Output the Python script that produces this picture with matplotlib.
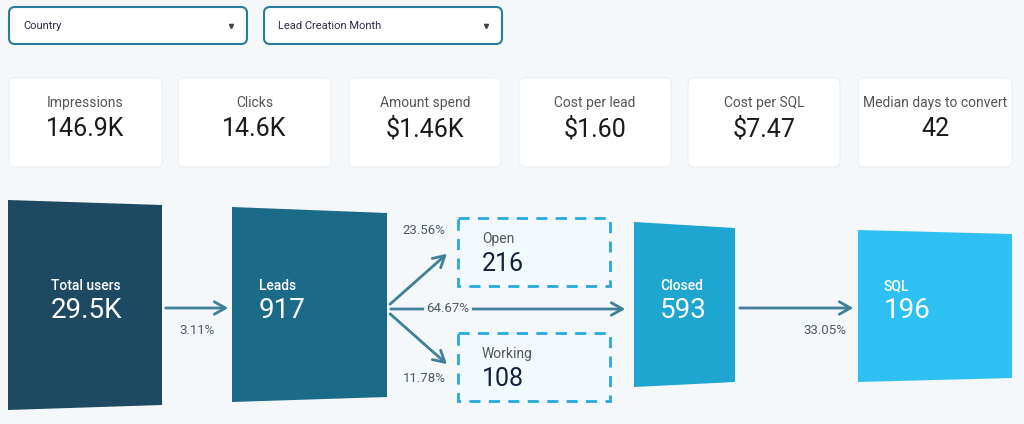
import matplotlib.pyplot as plt
from matplotlib.patches import FancyBboxPatch, Polygon, Rectangle

plt.rcParams['font.family'] = 'Roboto'

# -------------------- Data ----------------------- #
filters = ['Country', 'Lead Creation Month']
kpi_labels = ['Impressions', 'Clicks', 'Amount spend', 'Cost per lead', 'Cost per SQL', 'Median days to convert']
kpi_values = ['146.9K', '14.6K', '$1.46K', '$1.60', '$7.47', '42']
stage_labels = ['Total users', 'Leads', 'Closed', 'SQL']
stage_values = ['29.5K', '917', '593', '196']
branch_labels = ['Open', 'Working']
branch_values = ['216', '108']
rates = ['3.11%', '23.56%', '64.67%', '11.78%', '33.05%']

# -------------------- Layout ----------------------- #
fig = plt.figure(figsize=(10.24, 4.24), dpi=100, facecolor='#f5f8fa')
ax = fig.add_axes([0, 0, 1, 1])
ax.set_xlim(0, 1024)
ax.set_ylim(424, 0)
ax.axis('off')

# filter dropdowns
for (x0, x1), txt in zip([(9, 247), (264, 502)], filters):
    ax.add_patch(FancyBboxPatch((x0, 7), x1 - x0, 37, boxstyle='round,pad=0,rounding_size=6',
                                fc='white', ec='#2a7a9a', lw=1.5))
    ax.text(x0 + 14, 26, txt, fontsize=8, color='#2b2b4a', va='center')
    ax.plot([x1 - 16], [26], marker='v', ms=3, color='#444')

# KPI cards
card_x = [(9, 162), (178, 331), (349, 501), (519, 671), (688, 840), (858, 1012)]
for (x0, x1), lab, val in zip(card_x, kpi_labels, kpi_values):
    ax.add_patch(FancyBboxPatch((x0, 78), x1 - x0, 89, boxstyle='round,pad=0,rounding_size=6',
                                fc='white', ec='#eceff1', lw=0.8))
    cx = (x0 + x1) / 2
    ax.text(cx, 103, lab, fontsize=10, color='#555', ha='center', va='center')
    ax.text(cx, 129, val, fontsize=18, color='#1a1a1a', ha='center', va='center')

# funnel stages
shapes = [
    [(8, 200), (162, 205), (162, 405), (8, 410)],
    [(232, 207), (387, 213), (387, 397), (232, 402)],
    [(634, 222), (735, 228), (735, 382), (634, 387)],
    [(858, 230), (1012, 234), (1012, 378), (858, 382)],
]
colors = ['#1d4a62', '#1b6a87', '#1ea5d0', '#2ec0f2']
text_x = [86, 259, 660, 884]
for pts, c, tx, lab, val in zip(shapes, colors, text_x, stage_labels, stage_values):
    ax.add_patch(Polygon(pts, closed=True, fc=c, ec='none'))
    ha = 'center' if tx == 86 else 'left'
    ax.text(tx, 286, lab, fontsize=10, color='white', ha=ha, va='center', fontweight='medium')
    ax.text(tx, 311, val, fontsize=20, color='white', ha=ha, va='center')

# dashed branch boxes
for y0, lab, val in zip([218, 333], branch_labels, branch_values):
    ax.add_patch(Rectangle((458, y0), 152, 68, fc='#f2fafd', ec='#27a9dd', lw=2, ls=(0, (4, 3))))
    ax.text(482, y0 + 21, lab, fontsize=10, color='#555', va='center')
    ax.text(482, y0 + 46, val, fontsize=18, color='#14213d', va='center')

# arrows
acol = '#3f7f99'
akw = dict(arrowstyle='->,head_width=0.45,head_length=0.8', color=acol, lw=2)
ax.annotate('', xy=(231, 308), xytext=(163, 308), arrowprops=akw)
ax.annotate('', xy=(449, 252), xytext=(388, 306), arrowprops=akw)
ax.annotate('', xy=(449, 366), xytext=(388, 312), arrowprops=akw)
ax.annotate('', xy=(628, 309), xytext=(388, 309), arrowprops=akw)
ax.annotate('', xy=(856, 308), xytext=(737, 308), arrowprops=akw)

rate_pos = [(197, 330), (424, 231), (448, 309), (424, 378), (825, 330)]
for (x, y), r in zip(rate_pos, rates):
    ax.text(x, y, r, fontsize=9.5, color='#4a5a66', ha='center', va='center',
            bbox=dict(fc='#f5f8fa', ec='none', pad=1.5) if r == '64.67%' else None)

fig.savefig('out.png', dpi=100, facecolor=fig.get_facecolor())
